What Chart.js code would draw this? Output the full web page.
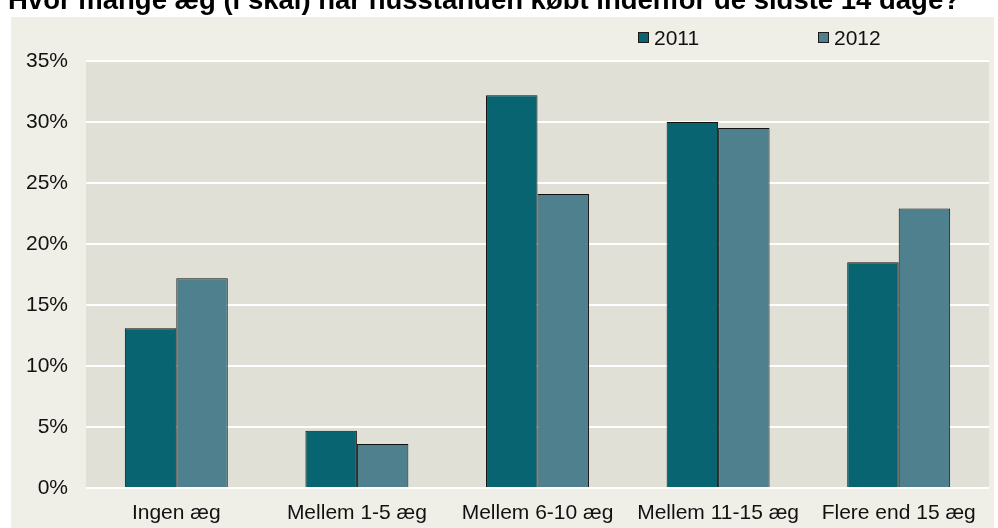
<!DOCTYPE html>
<html>
<head>
<meta charset="utf-8">
<script src="https://cdn.jsdelivr.net/npm/chart.js@4/dist/chart.umd.min.js"></script>
<style>
  html, body { margin: 0; padding: 0; background: #fff; }
  #wrap { position: relative; width: 998px; height: 528px; overflow: hidden; }
  #title { position: absolute; left: 8px; top: -14px; font: bold 27.5px "Liberation Sans", Arial, sans-serif;
           line-height: 27px; white-space: nowrap; color: #000; z-index: 2; }
  canvas { position: absolute; left: 0; top: 0; }
</style>
</head>
<body>
<div id="wrap">
  <div id="title">Hvor mange æg (i skal) har husstanden købt indenfor de sidste 14 dage?</div>
  <canvas id="barChart" width="998" height="528"></canvas>
</div>
<script>
var categories = ['Ingen æg', 'Mellem 1-5 æg', 'Mellem 6-10 æg', 'Mellem 11-15 æg', 'Flere end 15 æg'];
var values2011 = [13.1, 4.7, 32.2, 30.0, 18.5];
var values2012 = [17.2, 3.6, 24.1, 29.5, 22.9];
var seriesNames = ['2011', '2012'];
var yTicks = [0, 5, 10, 15, 20, 25, 30, 35];

var FONT = '"Liberation Sans", Arial, sans-serif';

// panel + plot background
var backgrounds = {
    id: 'backgrounds',
    beforeDraw: function(chart) {
        var ctx = chart.ctx, a = chart.chartArea;
        ctx.save();
        ctx.fillStyle = '#EFEFE8';
        ctx.fillRect(11, 17, 983, 511);
        ctx.fillStyle = '#E0E0D6';
        ctx.fillRect(a.left, a.top, a.right - a.left, a.bottom - a.top);
        ctx.restore();
    }
};

// white zero line sits over the bar feet, like the original
var zeroLine = {
    id: 'zeroLine',
    afterDatasetsDraw: function(chart) {
        var ctx = chart.ctx, a = chart.chartArea, y = chart.scales.y.getPixelForValue(0);
        ctx.save();
        ctx.strokeStyle = '#FFFFFF';
        ctx.lineWidth = 2;
        ctx.beginPath();
        ctx.moveTo(a.left, y);
        ctx.lineTo(a.right, y);
        ctx.stroke();
        ctx.restore();
    }
};

// legend drawn at the spots used in the original
var legendSpots = [638, 818];
var topLegend = {
    id: 'topLegend',
    afterDraw: function(chart) {
        var ctx = chart.ctx;
        ctx.save();
        ctx.font = '21px ' + FONT;
        ctx.textBaseline = 'alphabetic';
        chart.data.datasets.forEach(function(ds, i) {
            var x = legendSpots[i];
            ctx.fillStyle = ds.backgroundColor;
            ctx.fillRect(x, 32, 11, 11);
            ctx.strokeStyle = '#1a1a1a';
            ctx.lineWidth = 1;
            ctx.strokeRect(x + 0.5, 32.5, 10, 10);
            ctx.fillStyle = '#111';
            ctx.fillText(ds.label, x + 16, 45);
        });
        ctx.restore();
    }
};

var chart = new Chart(document.getElementById('barChart').getContext('2d'), {
    type: 'bar',
    data: {
        labels: categories,
        datasets: [{
            label: seriesNames[0],
            data: values2011,
            backgroundColor: '#086470',
            borderColor: '#111',
            borderWidth: 1
        }, {
            label: seriesNames[1],
            data: values2012,
            backgroundColor: '#4F808D',
            borderColor: '#111',
            borderWidth: 1
        }]
    },
    options: {
        responsive: false,
        animation: false,
        layout: { padding: { top: 61, right: 9, left: 0, bottom: 0 } },
        datasets: { bar: { categoryPercentage: 0.57, barPercentage: 1.0 } },
        plugins: {
            legend: { display: false },
            title: { display: false },
            tooltip: { enabled: false }
        },
        scales: {
            x: {
                grid: { display: false },
                border: { display: false },
                ticks: { font: { family: FONT, size: 21 }, color: '#111', padding: 5, maxRotation: 0 },
                afterFit: function(s) { s.height = 40; }
            },
            y: {
                min: 0,
                max: 35,
                afterBuildTicks: function(s) { s.ticks = yTicks.map(function(v) { return { value: v }; }); },
                grid: { color: '#FFFFFF', lineWidth: 2, drawTicks: false },
                border: { display: false },
                ticks: {
                    font: { family: FONT, size: 21 },
                    color: '#111',
                    padding: 18,
                    callback: function(v) { return v + '%'; }
                },
                afterFit: function(s) { s.width = 86; }
            }
        }
    },
    plugins: [backgrounds, zeroLine, topLegend]
});
</script>
</body>
</html>
